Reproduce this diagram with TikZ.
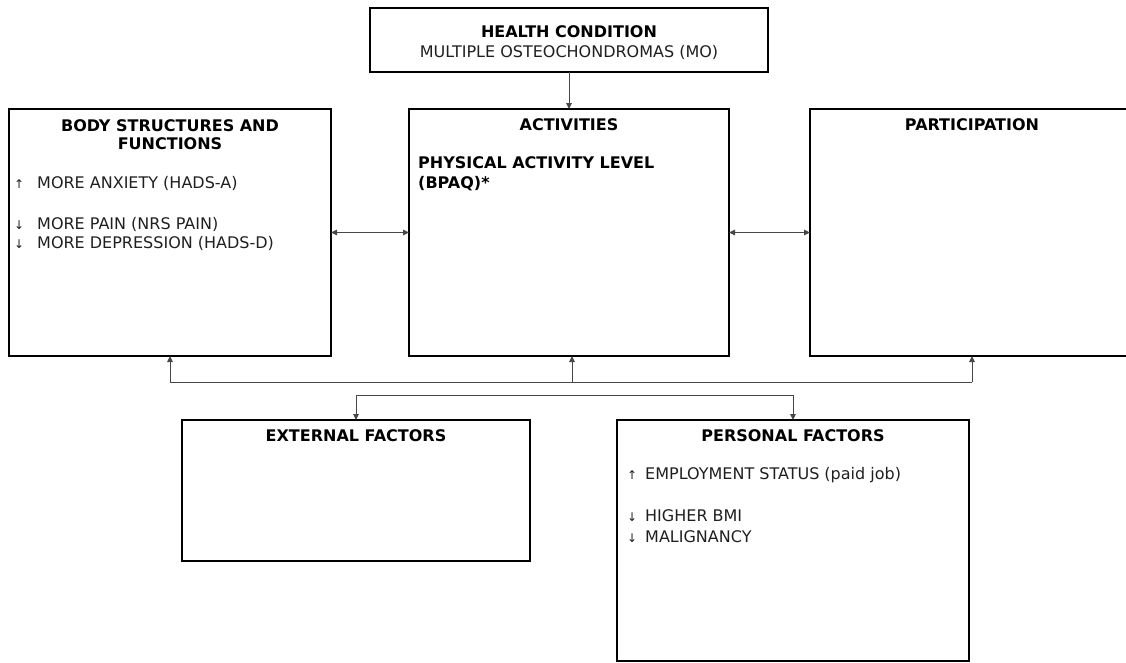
\documentclass[tikz,border=0pt]{standalone}
\usepackage{fontspec}
\setmainfont{DejaVu Sans}
\usetikzlibrary{arrows.meta}
\newcommand\myarr[2]{\makebox[#1][l]{\fontsize{12}{12}\selectfont #2}}
\begin{document}
\begin{tikzpicture}[x=1pt,y=-1pt,
  box/.style={draw=black,line width=1.8pt,rectangle,inner sep=0pt,outer sep=0pt},
  conn/.style={draw=black!72,line width=1pt},
  tip/.style={-{Triangle[length=6pt,width=5.5pt]}},
  tips/.style={{Triangle[length=6pt,width=5.5pt]}-{Triangle[length=6pt,width=5.5pt]}},
  ttl/.style={font=\fontsize{16}{18}\selectfont\bfseries,anchor=base,inner sep=0pt},
  txt/.style={font=\fontsize{16}{18}\selectfont,anchor=base west,inner sep=0pt,text=black!88},
]
\useasboundingbox (0,0) rectangle (1126,662);
\begin{scope}
\clip (0,0) rectangle (1126,662);
% boxes
\node[box,minimum width=398pt,minimum height=64pt] (health) at (569,40) {};
\node[box,minimum width=322pt,minimum height=247pt] (body) at (170,232.5) {};
\node[box,minimum width=320pt,minimum height=247pt] (act) at (569,232.5) {};
\node[box,minimum width=324pt,minimum height=247pt] (part) at (972,232.5) {};
\node[box,minimum width=348pt,minimum height=141pt] (ext) at (356,490.5) {};
\node[box,minimum width=352pt,minimum height=241pt] (pers) at (793,540.5) {};

% texts
\node[ttl] (t1) at (569,37) {HEALTH CONDITION};
\node[txt,anchor=base] (t2) at (569,57) {MULTIPLE OSTEOCHONDROMAS (MO)};

\node[ttl] (t3) at (170,131) {BODY STRUCTURES AND};
\node[ttl] (t4) at (170,149) {FUNCTIONS};
\node[txt] (t5) at (14,188) {\myarr{23pt}{↑}MORE ANXIETY (HADS-A)};
\node[txt] (t6) at (14,229) {\myarr{23pt}{↓}MORE PAIN (NRS PAIN)};
\node[txt] (t7) at (14,248) {\myarr{23pt}{↓}MORE DEPRESSION (HADS-D)};

\node[ttl] (t8) at (569,130) {ACTIVITIES};
\node[ttl,anchor=base west] (t9) at (418,168) {PHYSICAL ACTIVITY LEVEL};
\node[ttl,anchor=base west] (t10) at (418,188) {(BPAQ)*};

\node[ttl] (t11) at (972,130) {PARTICIPATION};

\node[ttl] (t12) at (356,441) {EXTERNAL FACTORS};

\node[ttl] (t13) at (793,441) {PERSONAL FACTORS};
\node[txt] (t14) at (627,479) {\myarr{18pt}{↑}EMPLOYMENT STATUS (paid job)};
\node[txt] (t15) at (627,521) {\myarr{18pt}{↓}HIGHER BMI};
\node[txt] (t16) at (627,542) {\myarr{18pt}{↓}MALIGNANCY};

% connectors
\draw[conn,tip] (health.south) -- (act.north);
\draw[conn,tips] (body.east) -- (act.west);
\draw[conn,tips] (act.east) -- (part.west);

\coordinate (hb) at (170,382);
\coordinate (hm) at (572,382);
\coordinate (hp) at (972,382);
\draw[conn] (hb) -- (hp);
\draw[conn,tip] (hb) -- (body.south);
\draw[conn,tip] (hm) -- (hm |- act.south);
\draw[conn,tip] (hp) -- (part.south);

\coordinate (le) at (356,395);
\coordinate (lp) at (793,395);
\draw[conn] (le) -- (lp);
\draw[conn,tip] (le) -- (ext.north);
\draw[conn,tip] (lp) -- (pers.north);
\end{scope}
\end{tikzpicture}
\end{document}
